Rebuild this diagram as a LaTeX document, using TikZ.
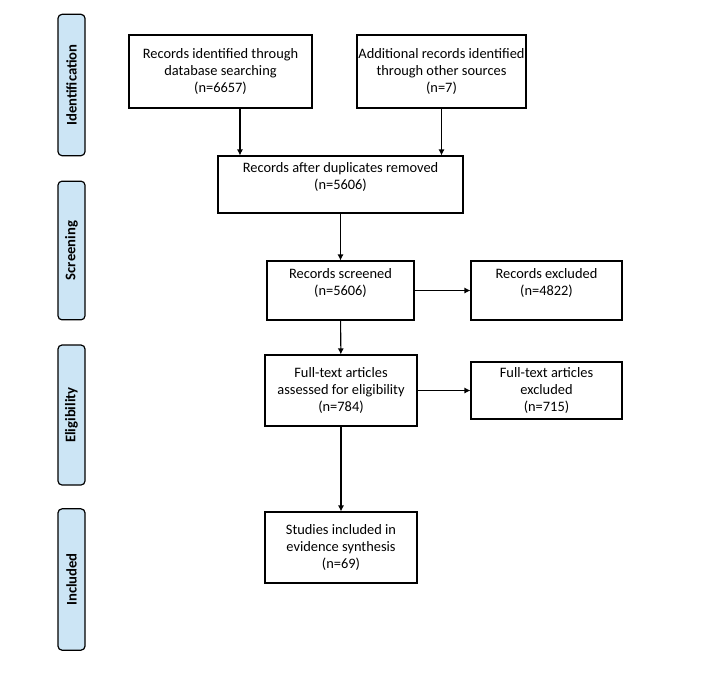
\documentclass[tikz,border=0pt]{standalone}
\usepackage{fontspec}
\setmainfont{Carlito}
\usetikzlibrary{positioning,arrows.meta}
\definecolor{phasefill}{RGB}{204,229,245}
\tikzset{
    box/.style = {
        draw,
        shape=rectangle,
        align=center,
        inner xsep=1pt,
        line width=0.8pt,
        font=\fontsize{10.8}{12.4}\selectfont
    },
    phase/.style = {
        draw,
        shape=rectangle,
        rounded corners=3pt,
        fill=phasefill,
        rotate=90,
        minimum height=20.25pt,
        line width=0.9pt,
        font=\fontsize{11}{12}\selectfont\bfseries
    },
    >={Latex[length=4.5pt,width=4.5pt]},
}
\begin{document}
\begin{tikzpicture}[x=0.75pt,y=-0.75pt]
                \useasboundingbox (0,0) rectangle (720,676);

                % phases
                \node[phase, minimum width=106pt] (ident) at (71.5,85) {Identification};
                \node[phase, minimum width=104pt] (screen) at (71.5,250.5) {Screening};
                \node[phase, minimum width=105pt] (elig) at (71.5,415) {Eligibility};
                \node[phase, minimum width=106pt] (incl) at (71.5,579.5) {Included};

                % boxes
                \node[box, minimum width=137.25pt, minimum height=54.75pt] (dbrec) at (220.5,71.5)
                {Records identified through\\database searching\\(n=6657)};
                \node[box, minimum width=126.75pt, minimum height=54.75pt] (otherrec) at (441.5,71.5)
                {Additional records identified\\through other sources\\(n=7)};
                \node[box, minimum width=183.75pt, minimum height=42.75pt] (dedup) at (340.5,184.5)
                {Records after duplicates removed\\(n=5606)\\\mbox{}};
                \node[box, minimum width=110.25pt, minimum height=44.25pt] (screened) at (340.5,290.5)
                {Records screened\\(n=5606)\\\mbox{}};
                \node[box, minimum width=113.25pt, minimum height=44.25pt] (excl) at (546.5,290.5)
                {Records excluded\\(n=4822)\\\mbox{}};
                \node[box, minimum width=114pt, minimum height=53.25pt] (fulltext) at (341,390.5)
                {Full-text articles\\assessed for eligibility\\(n=784)};
                \node[box, minimum width=113.25pt, minimum height=42.75pt] (ftexcl) at (546.5,390.5)
                {Full-text articles\\excluded\\(n=715)};
                \node[box, minimum width=114pt, minimum height=53.25pt] (studies) at (341,547.5)
                {Studies included in\\evidence synthesis\\(n=69)};

                % arrows
                \path[draw, line width=0.8pt, ->] ([xshift=14.6pt]dbrec.south) -- ([xshift=14.6pt]dbrec.south |- dedup.north);
                \path[draw, line width=0.8pt, ->] (otherrec.south) -- (otherrec.south |- dedup.north);
                \path[draw, line width=0.8pt, ->] (dedup) -- (screened);
                \path[draw, line width=0.8pt, ->] (screened) -- (excl);
                \path[draw, line width=0.8pt, ->] (screened) -- (fulltext);
                \path[draw, line width=0.8pt, ->] (fulltext) -- (ftexcl);
                \path[draw, line width=0.8pt, ->] (fulltext) -- (studies);
\end{tikzpicture}
\end{document}
